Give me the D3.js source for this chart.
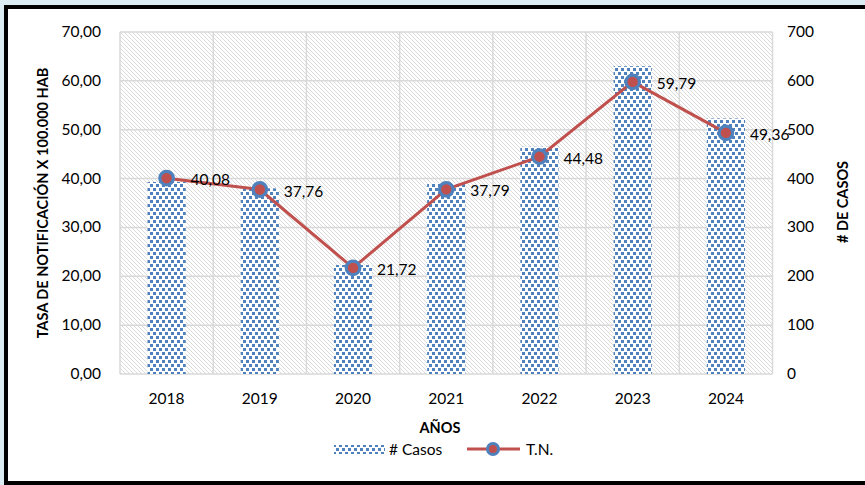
<!DOCTYPE html>
<html lang="es">
<head>
<meta charset="utf-8">
<title>casos</title>
<script src="https://d3js.org/d3.v7.min.js"></script>
<style>
  body { margin: 0; background: #dbedf3; }
  svg { display: block; font-family: Lato, "Liberation Sans", sans-serif; }
</style>
</head>
<body>
<svg width="865" height="485"></svg>
<script>
// data
var years = ["2018", "2019", "2020", "2021", "2022", "2023", "2024"];
var casos = [393, 380, 223, 390, 465, 630, 523];
var tasa = [40.08, 37.76, 21.72, 37.79, 44.48, 59.79, 49.36];
var leftTicks = [0, 10, 20, 30, 40, 50, 60, 70];
var rightTicks = [0, 100, 200, 300, 400, 500, 600, 700];

var svg = d3.select("svg");
var fmt = d => d.toFixed(2).replace(".", ",");

// frame
svg.append("rect").attr("x", 6).attr("y", 7).attr("width", 880).attr("height", 476)
  .attr("fill", "#fff").attr("stroke", "#000").attr("stroke-width", 4);

var defs = svg.append("defs");
var hatch = defs.append("pattern").attr("id", "hatch").attr("patternUnits", "userSpaceOnUse")
  .attr("width", 4).attr("height", 4);
hatch.append("rect").attr("width", 4).attr("height", 4).attr("fill", "#fff");
hatch.append("path").attr("d", "M-1,-1 L5,5 M-1,3 L1,5 M3,-1 L5,1")
  .attr("stroke", "#d6d6d6").attr("stroke-width", 0.9);

// blue squares on white, like the Excel pattern fill
var dots = defs.append("pattern").attr("id", "dots").attr("patternUnits", "userSpaceOnUse")
  .attr("width", 12).attr("height", 8);
dots.append("rect").attr("width", 12).attr("height", 8).attr("fill", "#fff");
[[0, 0], [6, 0], [3, 4], [9, 4]].forEach(p => {
  dots.append("rect").attr("x", p[0]).attr("y", p[1]).attr("width", 3).attr("height", 3).attr("fill", "#4f81bd");
});

var x = d3.scaleBand().domain(years).range([120, 772.5]).padding(0);
var yL = d3.scaleLinear().domain([0, 70]).range([374, 32]);
var yR = d3.scaleLinear().domain([0, 700]).range([374, 32]);
var barW = x.bandwidth() * 0.41;

svg.append("rect").attr("x", 120).attr("y", 32).attr("width", 652.5).attr("height", 342)
  .attr("fill", "url(#hatch)");

// gridlines
svg.append("g").selectAll("line").data(leftTicks).join("line")
  .attr("x1", 120).attr("x2", 772.5).attr("y1", d => yL(d)).attr("y2", d => yL(d))
  .attr("stroke", "#d9d9d9").attr("stroke-width", 1.5);
svg.append("g").selectAll("line").data(years.concat(["end"])).join("line")
  .attr("x1", (d, i) => 120 + i * x.step()).attr("x2", (d, i) => 120 + i * x.step())
  .attr("y1", 32).attr("y2", 374)
  .attr("stroke", "#d9d9d9").attr("stroke-width", 1.5);

// bars
svg.append("g").selectAll("rect").data(casos).join("rect")
  .attr("x", (d, i) => x(years[i]) + x.bandwidth() / 2 - barW / 2)
  .attr("y", d => yR(d)).attr("width", barW).attr("height", d => yR(0) - yR(d))
  .attr("fill", "url(#dots)");

// line
var line = d3.line().x((d, i) => x(years[i]) + x.bandwidth() / 2).y(d => yL(d));
svg.append("path").datum(tasa).attr("d", line).attr("fill", "none")
  .attr("stroke", "#c0504d").attr("stroke-width", 3);
svg.append("g").selectAll("circle").data(tasa).join("circle")
  .attr("cx", (d, i) => x(years[i]) + x.bandwidth() / 2).attr("cy", d => yL(d)).attr("r", 6.8)
  .attr("fill", "#c0504d").attr("stroke", "#4f81bd").attr("stroke-width", 3.2);
svg.append("g").selectAll("text").data(tasa).join("text")
  .attr("x", (d, i) => x(years[i]) + x.bandwidth() / 2 + 24).attr("y", d => yL(d) + 7)
  .attr("font-size", 15.5).attr("fill", "#000").text(d => fmt(d));

// axes labels
svg.append("g").selectAll("text").data(leftTicks).join("text")
  .attr("x", 101).attr("y", d => yL(d) + 5).attr("text-anchor", "end")
  .attr("font-size", 15.5).text(d => fmt(d));
svg.append("g").selectAll("text").data(rightTicks).join("text")
  .attr("x", 787).attr("y", d => yR(d) + 5)
  .attr("font-size", 15.5).text(d => d);
svg.append("g").selectAll("text").data(years).join("text")
  .attr("x", d => x(d) + x.bandwidth() / 2).attr("y", 404).attr("text-anchor", "middle")
  .attr("font-size", 15.5).text(d => d);

svg.append("text").attr("transform", "translate(48,203) rotate(-90)").attr("text-anchor", "middle")
  .attr("font-size", 14.5).attr("font-weight", "bold").text("TASA DE NOTIFICACIÓN X 100.000 HAB");
svg.append("text").attr("transform", "translate(848,202) rotate(-90)").attr("text-anchor", "middle")
  .attr("font-size", 14.5).attr("font-weight", "bold").text("# DE CASOS");
svg.append("text").attr("x", 440).attr("y", 433).attr("text-anchor", "middle")
  .attr("font-size", 14.5).attr("font-weight", "bold").text("AÑOS");

// legend
svg.append("rect").attr("x", 334).attr("y", 445).attr("width", 51).attr("height", 9).attr("fill", "url(#dots)");
svg.append("text").attr("x", 389).attr("y", 455).attr("font-size", 15.5).text("# Casos");
svg.append("line").attr("x1", 467).attr("x2", 520).attr("y1", 449).attr("y2", 449)
  .attr("stroke", "#c0504d").attr("stroke-width", 3);
svg.append("circle").attr("cx", 493).attr("cy", 449).attr("r", 5.5)
  .attr("fill", "#c0504d").attr("stroke", "#4f81bd").attr("stroke-width", 3);
svg.append("text").attr("x", 526).attr("y", 455).attr("font-size", 15.5).text("T.N.");
</script>
</body>
</html>
